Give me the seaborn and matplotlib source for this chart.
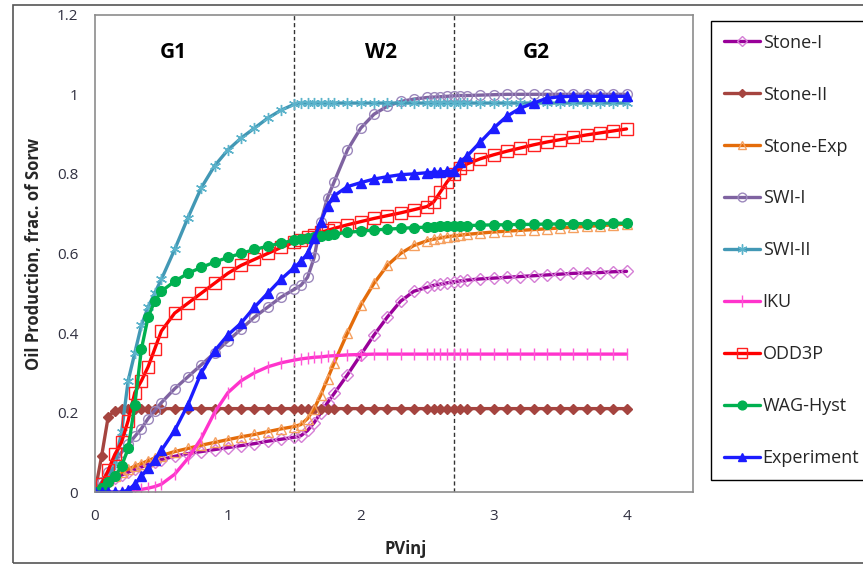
import numpy as np
import pandas as pd
import matplotlib
matplotlib.use("Agg")
import matplotlib.pyplot as plt
import seaborn as sns
from matplotlib.patches import Rectangle

sns.set_style("white")
plt.rcParams['font.family'] = ['Open Sans', 'DejaVu Sans']

# PVinj sampling points (same for every model curve)
PVINJ = [0, 0.05, 0.1, 0.15, 0.2, 0.25, 0.3, 0.35, 0.4, 0.45, 0.5, 0.6, 0.7, 0.8, 0.9,
         1.0, 1.1, 1.2, 1.3, 1.4, 1.5, 1.55, 1.6, 1.65, 1.7, 1.75, 1.8, 1.9, 2.0, 2.1,
         2.2, 2.3, 2.4, 2.5, 2.55, 2.6, 2.65, 2.7, 2.75, 2.8, 2.9, 3.0, 3.1, 3.2, 3.3,
         3.4, 3.5, 3.6, 3.7, 3.8, 3.9, 4.0]

STONE_I = [0, 0.012, 0.025, 0.035, 0.043, 0.05, 0.057, 0.063, 0.07, 0.076, 0.082, 0.09, 0.097,
           0.102, 0.107, 0.112, 0.117, 0.122, 0.128, 0.133, 0.138, 0.142, 0.155, 0.175, 0.2,
           0.225, 0.248, 0.295, 0.345, 0.395, 0.44, 0.48, 0.505, 0.515, 0.52, 0.523, 0.526,
           0.529, 0.531, 0.533, 0.536, 0.538, 0.54, 0.542, 0.544, 0.546, 0.548, 0.55, 0.551,
           0.552, 0.554, 0.555]

STONE_II = [0, 0.09, 0.19, 0.205, 0.21, 0.21, 0.21, 0.21, 0.21, 0.21, 0.21, 0.21, 0.21, 0.21,
            0.21, 0.21, 0.21, 0.21, 0.21, 0.21, 0.21, 0.21, 0.21, 0.21, 0.21, 0.21, 0.21, 0.21,
            0.21, 0.21, 0.21, 0.21, 0.21, 0.21, 0.21, 0.21, 0.21, 0.21, 0.21, 0.21, 0.21, 0.21,
            0.21, 0.21, 0.21, 0.21, 0.21, 0.21, 0.21, 0.21, 0.21, 0.21]

STONE_EXP = [0, 0.015, 0.03, 0.04, 0.05, 0.058, 0.065, 0.072, 0.079, 0.086, 0.092, 0.102, 0.11,
             0.118, 0.125, 0.132, 0.139, 0.145, 0.152, 0.159, 0.165, 0.17, 0.185, 0.21, 0.245,
             0.285, 0.325, 0.4, 0.47, 0.525, 0.57, 0.6, 0.62, 0.632, 0.636, 0.639, 0.642, 0.644,
             0.646, 0.648, 0.651, 0.654, 0.656, 0.658, 0.66, 0.662, 0.664, 0.666, 0.668, 0.67,
             0.672, 0.674]

SWI_I = [0, 0.025, 0.05, 0.075, 0.1, 0.12, 0.14, 0.16, 0.185, 0.205, 0.225, 0.26, 0.29, 0.32,
         0.35, 0.38, 0.41, 0.44, 0.465, 0.49, 0.51, 0.52, 0.54, 0.59, 0.68, 0.74, 0.78, 0.86,
         0.915, 0.95, 0.97, 0.982, 0.988, 0.992, 0.993, 0.994, 0.995, 0.996, 0.997, 0.997,
         0.998, 0.999, 1.0, 1.0, 1.0, 1.0, 1.0, 1.0, 1.0, 1.0, 1.0, 1.0]

SWI_II = [0, 0.01, 0.03, 0.07, 0.15, 0.28, 0.35, 0.42, 0.465, 0.5, 0.535, 0.61, 0.69, 0.765,
          0.82, 0.86, 0.89, 0.915, 0.94, 0.96, 0.975, 0.978, 0.978, 0.978, 0.978, 0.978, 0.978,
          0.978, 0.978, 0.978, 0.978, 0.978, 0.978, 0.978, 0.978, 0.978, 0.978, 0.978, 0.978,
          0.978, 0.978, 0.978, 0.978, 0.978, 0.978, 0.978, 0.978, 0.978, 0.978, 0.978, 0.978,
          0.978]

IKU = [0, 0, 0, 0, 0, 0.002, 0.004, 0.007, 0.01, 0.014, 0.02, 0.045, 0.085, 0.135, 0.2, 0.25,
       0.28, 0.3, 0.315, 0.325, 0.332, 0.335, 0.337, 0.339, 0.34, 0.342, 0.343, 0.345, 0.346,
       0.347, 0.347, 0.347, 0.347, 0.347, 0.347, 0.347, 0.347, 0.347, 0.347, 0.347, 0.347,
       0.347, 0.347, 0.347, 0.347, 0.347, 0.347, 0.347, 0.347, 0.347, 0.347, 0.347]

ODD3P = [0, 0.02, 0.055, 0.095, 0.125, 0.18, 0.25, 0.28, 0.315, 0.36, 0.405, 0.45, 0.475, 0.5,
         0.525, 0.55, 0.57, 0.585, 0.6, 0.615, 0.628, 0.635, 0.641, 0.647, 0.653, 0.658, 0.663,
         0.672, 0.68, 0.688, 0.695, 0.702, 0.71, 0.718, 0.73, 0.755, 0.78, 0.8, 0.815, 0.825,
         0.838, 0.848, 0.857, 0.865, 0.873, 0.88, 0.886, 0.892, 0.898, 0.903, 0.908, 0.913]

WAG_HYST = [0, 0.01, 0.025, 0.04, 0.065, 0.11, 0.22, 0.36, 0.44, 0.48, 0.505, 0.53, 0.55, 0.565,
            0.578, 0.59, 0.6, 0.61, 0.618, 0.626, 0.633, 0.636, 0.639, 0.642, 0.645, 0.647,
            0.649, 0.653, 0.656, 0.659, 0.661, 0.663, 0.665, 0.666, 0.667, 0.668, 0.668, 0.669,
            0.669, 0.67, 0.671, 0.672, 0.672, 0.673, 0.673, 0.674, 0.674, 0.675, 0.675, 0.675,
            0.676, 0.676]

EXPERIMENT = [0, 0, 0, 0, 0, 0.005, 0.02, 0.04, 0.06, 0.08, 0.105, 0.155, 0.22, 0.3, 0.355,
              0.395, 0.425, 0.465, 0.5, 0.535, 0.565, 0.58, 0.6, 0.64, 0.68, 0.72, 0.745, 0.768,
              0.778, 0.787, 0.793, 0.798, 0.8, 0.803, 0.804, 0.805, 0.806, 0.808, 0.83, 0.845,
              0.88, 0.915, 0.945, 0.965, 0.978, 0.99, 0.994, 0.995, 0.995, 0.995, 0.995, 0.995]

PHASE_LINES = [1.5, 2.7]
PHASE_LABELS = [("G1", 0.59), ("W2", 2.15), ("G2", 3.32)]

# name, values, line colour, marker, marker face, marker edge, marker size
series = [
    ("Stone-I", STONE_I, "#990099", "D", "none", "#D57ED5", 6),
    ("Stone-II", STONE_II, "#A5443F", "D", "#A5443F", "#A5443F", 5),
    ("Stone-Exp", STONE_EXP, "#E46C0A", "^", "none", "#F5A060", 7),
    ("SWI-I", SWI_I, "#7F63A1", "o", "none", "#9C88BC", 7),
    ("SWI-II", SWI_II, "#4298B5", (6, 2, 0), "#5BB3CB", "#5BB3CB", 8),
    ("IKU", IKU, "#FF33CC", "|", "#FF55D5", "#FF55D5", 9),
    ("ODD3P", ODD3P, "#FF0000", "s", "none", "#FF2020", 8),
    ("WAG-Hyst", WAG_HYST, "#00B050", "o", "#00B050", "#00B050", 7),
    ("Experiment", EXPERIMENT, "#1C1CFF", "^", "#1C1CFF", "#1C1CFF", 7),
]

fig = plt.figure(figsize=(8.63, 5.67), dpi=100)
ax = fig.add_axes([0.110, 0.132, 0.693, 0.842])

for name, vals, lc, mk, mfc, mec, ms in series:
    df = pd.DataFrame({"PVinj": PVINJ, "Oil": vals})
    sns.lineplot(data=df, x="PVinj", y="Oil", ax=ax, color=lc, lw=2.4, marker=mk,
                 markerfacecolor=mfc, markeredgecolor=mec, markersize=ms,
                 markeredgewidth=1.0, label=name, sort=False)

for xv in PHASE_LINES:
    ax.axvline(xv, color="#333333", lw=1.0, linestyle=(0, (3, 2)), zorder=0)

for txt, xv in PHASE_LABELS:
    ax.text(xv, 1.105, txt, ha="center", va="center", fontsize=15, fontweight="bold",
            color="black")

ax.set_xlim(0, 4.5)
ax.set_ylim(0, 1.2)
ax.set_xticks([0, 1, 2, 3, 4])
ax.set_xticklabels(["0", "1", "2", "3", "4"])
ax.set_yticks([0, 0.2, 0.4, 0.6, 0.8, 1.0, 1.2])
ax.set_yticklabels(["0", "0.2", "0.4", "0.6", "0.8", "1", "1.2"])
ax.tick_params(axis="both", direction="out", length=4, width=1, color="#888888",
               labelsize=11, labelcolor="#303040", pad=8)
for sp in ax.spines.values():
    sp.set_color("#8C8C8C")
    sp.set_linewidth(1.2)

ax.set_xlabel("PVinj", fontsize=12, fontweight="bold")
ax.xaxis.set_label_coords(0.52, -0.10)
ax.set_ylabel("Oil Production, frac. of Sorw", fontsize=12, fontweight="bold", labelpad=10)

handles, labels = ax.get_legend_handles_labels()
ax.get_legend().remove()
leg = fig.legend(handles, labels, loc="upper left", bbox_to_anchor=(0.824, 0.963),
                 borderaxespad=0, fontsize=13, labelspacing=1.88, borderpad=0.7,
                 handlelength=2.0, handletextpad=0.15, fancybox=False, framealpha=1,
                 edgecolor="black", markerscale=0.9)
leg.get_frame().set_linewidth(1.0)

fig.patches.append(Rectangle((0.015, 0.007), 1.0, 0.984, transform=fig.transFigure,
                             fill=False, edgecolor="#555555", lw=1.2))

fig.savefig("out.png", dpi=100)
